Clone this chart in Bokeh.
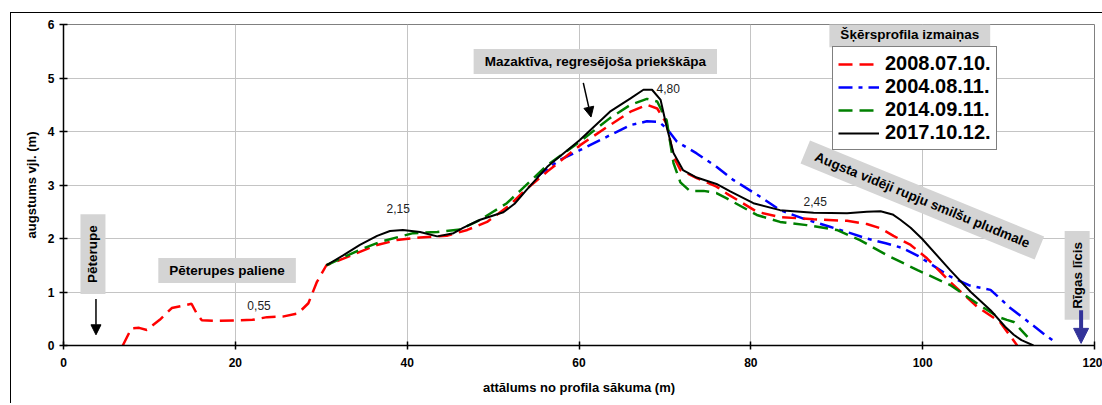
from bokeh.plotting import figure
from bokeh.models import (Range1d, Label, Arrow, NormalHead, Legend, LegendItem, FixedTicker)
from bokeh.embed import file_html
from bokeh.resources import INLINE

# ---------------- data ----------------
x_ticks = [0, 20, 40, 60, 80, 100, 120]
y_ticks = [0, 1, 2, 3, 4, 5, 6]

labels = ["2008.07.10.", "2004.08.11.", "2014.09.11.", "2017.10.12."]

x_2008 = [6.9, 7.9, 8.8, 9.7, 11.2, 12.6, 14.9, 15.5, 16.1, 17.6, 20.0, 22.0, 23.7, 25.5,
          27.3, 28.5, 29.5, 30.6, 32.5, 34.5, 36.5, 38.8, 41.5, 44.6, 47.0, 49.3, 52.0,
          53.5, 56.3, 60.1, 63.6, 66.0, 67.9, 69.1, 70.2, 71.0, 71.8, 73.7, 76.0, 77.2,
          80.7, 83.4, 87.3, 91.2, 93.5, 95.1, 96.6, 98.6, 100.5, 103.2, 106.3, 109.0, 111.0]
y_2008 = [0.00, 0.32, 0.33, 0.29, 0.48, 0.70, 0.78, 0.60, 0.47, 0.46, 0.47, 0.48, 0.53, 0.54,
          0.60, 0.79, 1.19, 1.50, 1.62, 1.75, 1.88, 1.97, 2.02, 2.05, 2.16, 2.31, 2.63,
          2.87, 3.25, 3.74, 4.12, 4.37, 4.50, 4.43, 4.15, 3.53, 3.28, 3.13, 2.97, 2.84,
          2.50, 2.40, 2.36, 2.33, 2.27, 2.19, 2.05, 1.88, 1.63, 1.19, 0.73, 0.44, 0.00]

x_2004 = [55.0, 57.8, 60.1, 63.6, 66.0, 67.9, 69.3, 70.2, 71.4, 73.7, 76.0, 78.0, 81.1,
          83.4, 86.5, 89.2, 91.6, 93.5, 95.7, 97.5, 99.4, 103.2, 105.5, 107.9, 109.2,
          110.2, 112.0, 114.0, 115.6]
y_2004 = [3.15, 3.47, 3.65, 3.93, 4.12, 4.19, 4.18, 4.06, 3.81, 3.59, 3.34, 3.09, 2.78,
          2.53, 2.35, 2.22, 2.10, 2.00, 1.91, 1.83, 1.68, 1.29, 1.12, 1.04, 0.85,
          0.70, 0.48, 0.23, 0.04]

x_2014 = [30.6, 34.5, 36.9, 40.7, 43.5, 46.2, 48.5, 50.0, 51.6, 53.2, 56.3, 60.1, 63.6,
          66.0, 67.9, 69.1, 70.2, 71.0, 71.8, 72.9, 74.5, 76.0, 77.2, 80.7, 83.4, 86.5,
          90.0, 92.7, 95.7, 99.4, 103.2, 106.3, 108.7, 109.8, 110.6, 112.2]
y_2014 = [1.50, 1.79, 1.94, 2.10, 2.12, 2.17, 2.35, 2.50, 2.66, 2.90, 3.37, 3.81, 4.25,
          4.50, 4.61, 4.56, 4.21, 3.41, 3.05, 2.89, 2.89, 2.85, 2.75, 2.44, 2.31, 2.25,
          2.16, 1.97, 1.70, 1.41, 1.13, 0.79, 0.54, 0.48, 0.44, 0.16]

x_2017 = [30.6, 32.5, 34.5, 36.5, 38.0, 39.5, 41.5, 43.5, 45.4, 46.5, 48.5, 51.2, 52.5,
          53.9, 56.3, 60.1, 63.6, 66.0, 67.5, 68.5, 69.5, 70.2, 71.0, 72.1, 73.7, 76.0,
          77.6, 80.3, 83.4, 87.3, 91.2, 93.5, 95.1, 96.5, 97.4, 98.6, 99.9, 103.2, 105.6,
          107.9, 109.6, 110.6, 111.5, 112.9]
y_2017 = [1.50, 1.68, 1.88, 2.05, 2.14, 2.16, 2.12, 2.04, 2.10, 2.20, 2.35, 2.49, 2.65,
          2.91, 3.34, 3.84, 4.37, 4.62, 4.78, 4.78, 4.59, 4.09, 3.60, 3.28, 3.14, 3.02,
          2.88, 2.66, 2.53, 2.48, 2.47, 2.50, 2.51, 2.45, 2.35, 2.20, 2.00, 1.41, 1.00,
          0.66, 0.35, 0.20, 0.10, 0.00]

FONT = "Liberation Sans"

# ---------------- figure ----------------
p = figure(width=1092, height=391, output_backend="svg", toolbar_location=None,
           x_range=Range1d(0, 120), y_range=Range1d(0, 6),
           min_border_left=52, min_border_right=9, min_border_top=11, min_border_bottom=59)
# outer chart frame: only its top and left edges fall inside the window
p.styles = {"margin-left": "10px", "margin-top": "12px",
            "border-left": "1.5px solid black", "border-top": "1.5px solid black"}
p.background_fill_color = "white"
p.border_fill_color = "white"
p.outline_line_color = "#808080"
p.outline_line_width = 1

for ax in (p.xaxis[0], p.yaxis[0]):
    ax.axis_line_color = "black"
    ax.axis_line_width = 1.5
    ax.major_tick_line_color = "black"
    ax.major_tick_line_width = 1.5
    ax.major_tick_in = 4
    ax.major_tick_out = 4
    ax.minor_tick_line_color = None
    ax.major_label_text_font = FONT
    ax.major_label_text_font_style = "bold"
    ax.major_label_text_font_size = "12px"
    ax.major_label_text_color = "black"
    ax.axis_label_text_font = FONT
    ax.axis_label_text_font_style = "bold"
    ax.axis_label_text_font_size = "13px"
    ax.axis_label_text_color = "black"

p.xaxis.ticker = FixedTicker(ticks=x_ticks)
p.yaxis.ticker = FixedTicker(ticks=y_ticks)
p.xaxis.axis_label = "attālums no profila sākuma (m)"
p.yaxis.axis_label = "augstums vjl. (m)"
p.xaxis.major_label_standoff = 8
p.xaxis.axis_label_standoff = 10
p.yaxis.major_label_standoff = 5
p.yaxis.axis_label_standoff = 6

for g in (p.xgrid[0], p.ygrid[0]):
    g.grid_line_color = "#c4c4c4"
    g.grid_line_width = 1

# ---------------- lines ----------------
r_2004 = p.line(x_2004, y_2004, line_color="#0000ff", line_width=2.5, line_dash="14 6 4 6")
r_2008 = p.line(x_2008, y_2008, line_color="#ff0000", line_width=2.5, line_dash="14 7")
r_2014 = p.line(x_2014, y_2014, line_color="#008000", line_width=2.5, line_dash="14 7")
r_2017 = p.line(x_2017, y_2017, line_color="black", line_width=2)

legend = Legend(items=[LegendItem(label=labels[0], renderers=[r_2008]),
                       LegendItem(label=labels[1], renderers=[r_2004]),
                       LegendItem(label=labels[2], renderers=[r_2014]),
                       LegendItem(label=labels[3], renderers=[r_2017])],
                location=(769, 195))
legend.border_line_color = "black"
legend.border_line_width = 1
legend.background_fill_color = "white"
legend.background_fill_alpha = 1
legend.padding = 5
legend.spacing = 0
legend.margin = 0
legend.glyph_width = 41
legend.glyph_height = 22
legend.label_height = 22
legend.label_standoff = 6
legend.label_text_font = FONT
legend.label_text_font_style = "bold"
legend.label_text_font_size = "20px"
legend.label_text_color = "black"
p.add_layout(legend)

# ---------------- annotations ----------------
def box_label(text, x, y, angle=0):
    return Label(x=x, y=y, text=text, text_font=FONT, text_font_style="bold",
                 text_font_size="13.5px", text_color="black", text_align="center",
                 text_baseline="middle", angle=angle, angle_units="deg",
                 background_fill_color="#d4d4d4", padding=(11, 5))

def num_label(text, x, y):
    return Label(x=x, y=y, text=text, text_font=FONT, text_font_size="12px",
                 text_color="#222222", text_align="center", text_baseline="middle")

p.add_layout(box_label("Pēterupe", 3.43, 1.71, 90))
p.add_layout(box_label("Pēterupes paliene", 19.04, 1.40))
p.add_layout(box_label("Mazaktīva, regresējoša priekškāpa", 61.9, 5.31))
p.add_layout(box_label("Šķērsprofila izmaiņas", 98.5, 5.81))
p.add_layout(box_label("Augsta vidēji rupju smilšu pludmale", 99.96, 2.72, -22.3))
p.add_layout(box_label("Rīgas līcis", 117.98, 1.31, 90))

p.add_layout(num_label("0,55", 22.76, 0.74))
p.add_layout(num_label("2,15", 38.95, 2.57))
p.add_layout(num_label("4,80", 70.39, 4.81))
p.add_layout(num_label("2,45", 87.5, 2.70))

p.add_layout(Arrow(end=NormalHead(size=10, fill_color="black", line_color="black"),
                   x_start=3.78, y_start=0.87, x_end=3.78, y_end=0.20,
                   line_color="black", line_width=1.5))
p.add_layout(Arrow(end=NormalHead(size=10, fill_color="black", line_color="black"),
                   x_start=60.5, y_start=4.91, x_end=61.4, y_end=4.27,
                   line_color="black", line_width=1.5))
p.add_layout(Arrow(end=NormalHead(size=15, fill_color="#333399", line_color="#333399"),
                   x_start=118.44, y_start=0.66, x_end=118.44, y_end=0.04,
                   line_color="#333399", line_width=4))

open("out.html", "w").write(file_html(p, INLINE))
